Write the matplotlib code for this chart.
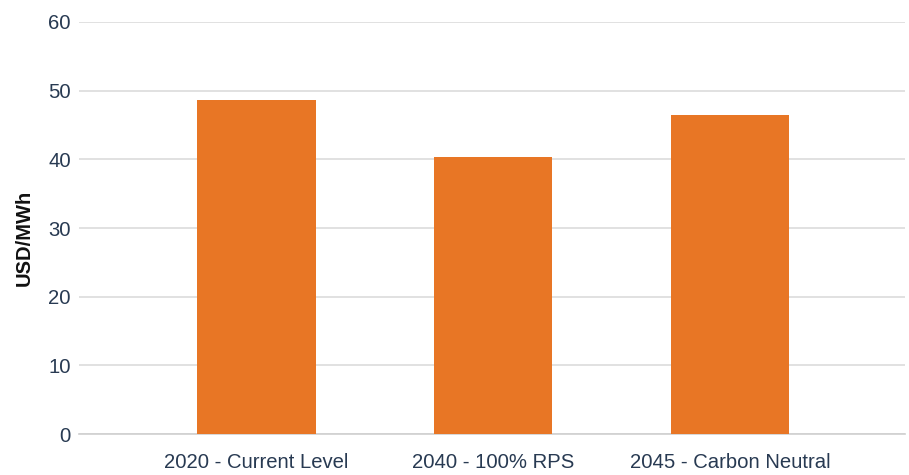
import matplotlib
matplotlib.use("Agg")
import matplotlib.pyplot as plt

categories = ["2020 - Current Level", "2040 - 100% RPS", "2045 - Carbon Neutral"]
values = [48.6, 40.4, 46.4]
y_ticks = [0, 10, 20, 30, 40, 50, 60]

BAR_COLOR = "#E87625"
TEXT_COLOR = "#283A52"
GRID_COLOR = "#DCDCDC"

plt.rcParams["font.family"] = ["Liberation Sans", "DejaVu Sans"]

fig = plt.figure(figsize=(9.09, 4.75), dpi=100)
ax = fig.add_axes([0.0869, 0.0863, 0.9087, 0.8674])

x = list(range(len(categories)))
ax.bar(x, values, width=0.5, color=BAR_COLOR, zorder=3)

ax.set_xlim(-0.75, 2.74)
ax.set_ylim(0, 60)
ax.set_yticks(y_ticks)
ax.set_xticks(x)
ax.set_xticklabels(categories)

ax.yaxis.grid(True, color=GRID_COLOR, linewidth=1.2, zorder=0)
ax.set_axisbelow(True)
for side in ("top", "right", "left"):
    ax.spines[side].set_visible(False)
ax.spines["bottom"].set_color("#CFCFCF")
ax.spines["bottom"].set_linewidth(1.2)

ax.tick_params(axis="both", length=0, labelsize=14.6, colors=TEXT_COLOR)
ax.tick_params(axis="y", pad=6)
ax.tick_params(axis="x", pad=14)

ax.set_ylabel("USD/MWh", fontsize=14.5, fontweight="bold", color="#111111")
ax.yaxis.set_label_coords(-0.055, 0.475)

fig.savefig("out.png", dpi=100)
